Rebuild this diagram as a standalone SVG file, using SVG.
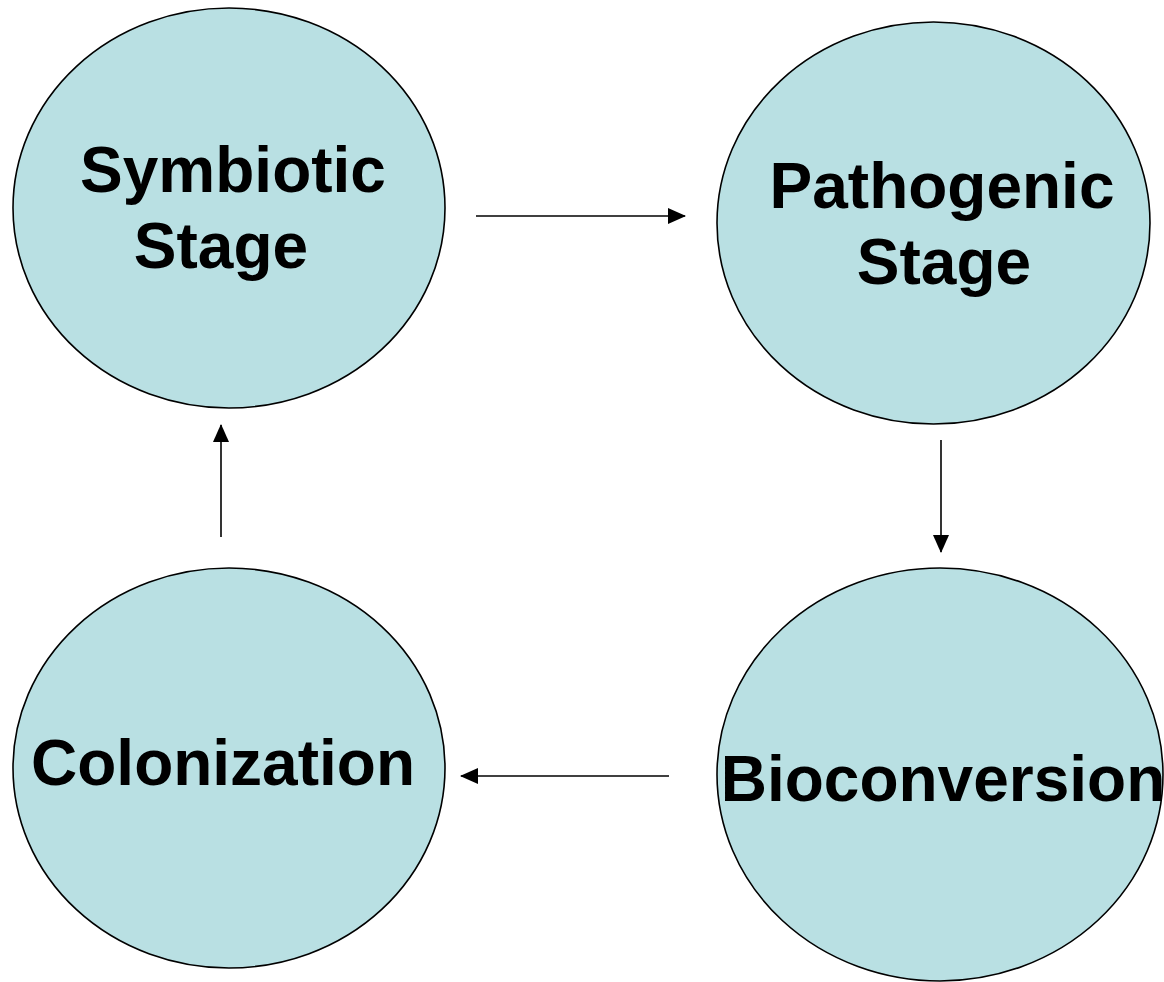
<svg xmlns="http://www.w3.org/2000/svg" width="1164" height="982" viewBox="0 0 1164 982">
<style>
.node ellipse{fill:#B9E0E3;stroke:#000;stroke-width:1.6}
.node text{font-family:"Liberation Sans",Arial,sans-serif;font-weight:bold;font-size:64px;fill:#000;text-anchor:middle}
.conn line{stroke:#000;stroke-width:1.6}
</style>
<defs>
<marker id="ah" markerUnits="userSpaceOnUse" markerWidth="18" markerHeight="16" viewBox="0 0 18 16" refX="17" refY="8" orient="auto">
<path d="M0,0 L18,8 L0,16 Z" fill="#000"/>
</marker>
</defs>
<rect width="1164" height="982" fill="#fff"/>
<g id="symbiotic" class="node">
<ellipse cx="229" cy="208" rx="216" ry="200"/>
<text x="233" y="192">Symbiotic</text>
<text x="221" y="268">Stage</text>
</g>
<g id="pathogenic" class="node">
<ellipse cx="933.5" cy="223" rx="216.5" ry="201"/>
<text x="942" y="208">Pathogenic</text>
<text x="944" y="284">Stage</text>
</g>
<g id="bioconversion" class="node">
<ellipse cx="940" cy="774.5" rx="223" ry="206.5"/>
<text x="943" y="801">Bioconversion</text>
</g>
<g id="colonization" class="node">
<ellipse cx="229" cy="768" rx="216" ry="200"/>
<text x="223" y="785">Colonization</text>
</g>
<g id="connectors" class="conn">
<line x1="476" y1="216" x2="685" y2="216" marker-end="url(#ah)"/>
<line x1="941" y1="440" x2="941" y2="552" marker-end="url(#ah)"/>
<line x1="669" y1="776" x2="461" y2="776" marker-end="url(#ah)"/>
<line x1="221" y1="537" x2="221" y2="425" marker-end="url(#ah)"/>
</g>
</svg>
